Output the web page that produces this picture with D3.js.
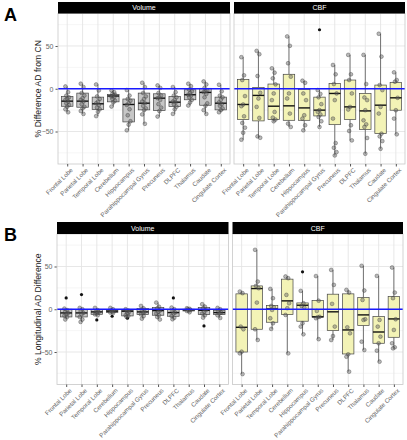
<!DOCTYPE html>
<html><head><meta charset="utf-8">
<script src="https://cdn.jsdelivr.net/npm/d3@7"></script>
<style>body{margin:0;background:#fff}svg{display:block}text{font-family:"Liberation Sans",Arial,sans-serif}</style>
</head><body><svg id="c" width="407" height="440"></svg>
<script>
const categories=["Frontal Lobe","Parietal Lobe","Temporal Lobe","Cerebellum","Hippocampus","Parahippocampal Gyrus","Precuneus","DLPFC","Thalamus","Caudate","Cingulate Cortex"];
const yTicks=[-50,0,50];
const yMinor=[-75,-25,25,75];

// ---- Panel A: Volume ----
const aVolHi=[2.7,5.9,5,-2,-1.5,7,3.9,2,5.9,8.6,4.7];
const aVolQ3=[-9,-5.1,-9.8,-6.7,-12,-5.1,-5.9,-9,-1.2,0.5,-9.8];
const aVolMed=[-14.5,-14.5,-17.6,-8.5,-18.4,-16.9,-11,-15.7,-7,-4.3,-16.9];
const aVolQ1=[-20.5,-21.6,-24.3,-15.3,-38.8,-24.7,-25.5,-20.8,-12.9,-19.3,-24.7];
const aVolLo=[-27.5,-29.4,-32,-20.8,-48.6,-41,-32.5,-29.4,-19.6,-29.4,-27.5];
const aVolPts=[
 [2.7,-4,-8,-10,-12,-13,-15,-17,-19,-21,-24,-27.5],
 [5.9,2,-5,-8,-11,-13,-15,-18,-21,-23,-26,-29.4],
 [5,-2,-9,-12,-15,-17,-19,-22,-24,-27,-32],
 [-2,-4,-6,-7,-8,-9,-10,-12,-14,-16,-20.8],
 [-1.5,-8,-12,-14,-17,-19,-24,-31,-38,-42,-48.6],
 [7,2,-5,-9,-12,-15,-17,-20,-23,-25,-30,-41],
 [3.9,1,-5,-8,-10,-11,-13,-18,-22,-26,-32.5],
 [2,-4,-8,-10,-13,-15,-16,-18,-21,-24,-29.4],
 [5.9,3,-1,-3,-5,-7,-8,-10,-13,-16,-19.6],
 [8.6,5,1,-2,-3,-4,-6,-10,-17,-20,-25,-29.4],
 [4.7,-3,-8,-10,-13,-16,-18,-20,-23,-25,-27.5]];
const aVolOut=[[],[],[],[],[],[],[],[],[],[],[]];

// ---- Panel A: CBF ----
const aCbfHi=[36.9,44.3,23.9,61.2,9.4,-1.5,27.8,39.6,39.6,64.3,19.2];
const aCbfQ3=[11,1.6,5.5,16.9,-0.8,-9.8,6.3,10.2,-5.5,4.3,7.5];
const aCbfMed=[-18.4,-7.8,-20.4,-20,-22.4,-25,-5.5,-21.2,-25.9,-19.2,-10.6];
const aCbfQ1=[-36,-37.6,-36,-36.9,-36.9,-31.8,-42,-36,-47.5,-52.5,-25.1];
const aCbfLo=[-59.6,-57.3,-38.4,-44.7,-48.6,-44.7,-78,-60.4,-76,-70.2,-53.3];
const aCbfPts=[
 [36.9,15.7,10.2,-8.6,-18.4,-20.4,-32.2,-40,-45.5,-51.4,-59.6],
 [44.3,40.4,14.9,-4.7,-11.4,-21.2,-34.1,-55.7,-57.3],
 [23.9,18.8,12.2,5.1,-5.5,-13.3,-27.1,-33.7,-36,-38],
 [61.2,50.2,29.8,14.1,-5.5,-11.4,-29,-40.8,-44.7],
 [9.4,7,-5.5,-13.3,-31,-34.9,-42.7,-48.6],
 [-1.5,-6,-10,-18,-25,-27,-30,-33,-38,-44.7],
 [27.8,16.9,5.5,-5.5,-13.3,-34.9,-63.5,-69,-74.1,-78],
 [39.6,16.9,10.2,-5.5,-21.2,-24.3,-42.7,-49.4,-60.4],
 [39.6,5.5,-10.2,-13.3,-25.1,-36.9,-41.6,-44.7,-57.6,-76],
 [64.3,37.6,4.3,-1.6,-21.2,-29,-52.5,-55.7,-61.2,-70.2],
 [19.2,10.2,8.2,-10.6,-25.1,-34.9,-53.3]];
const aCbfOut=[[],[],[],[],[],[69],[],[],[],[],[]];

// ---- Panel B: Volume ----
const bVolHi=[0.8,1.6,1.6,1.6,0,3.9,7.8,2,1.2,5.9,1.6];
const bVolQ3=[0,-0.4,-0.4,-1.2,-1.2,0.8,2,-0.4,0,2,-1.2];
const bVolMed=[-4.3,-4.3,-3.1,-2.3,-2.3,-3.1,-1.6,-3.9,-0.8,-1.2,-3.9];
const bVolQ1=[-9,-9,-5.9,-3.9,-7.8,-6.3,-7,-8.2,-2,-6.3,-6.3];
const bVolLo=[-12,-14.8,-7,-4.5,-9,-11,-12,-11.7,-3.5,-9.8,-10.2];
const bVolPts=[
 [0.8,-1,-3,-4.3,-6,-7.5,-9,-12],
 [1.6,0,-2,-4.3,-6,-9,-12,-14.8],
 [1.6,-1,-3,-3.5,-5,-6,-7],
 [1.6,0,-1.5,-2.3,-3,-3.9,-4.5],
 [0,-1.5,-2.3,-3,-5,-7,-7.8,-9],
 [3.9,1,-1,-3.1,-4,-6,-8,-11],
 [7.8,3,1,-1.6,-3,-5,-7,-9,-12],
 [2,0,-2,-3.9,-5,-8,-10,-11.7],
 [1.2,0.5,0,-0.8,-1.5,-2,-3.5],
 [5.9,3,1,-1.2,-3,-5,-7,-9.8],
 [1.6,0,-2,-3.9,-5,-7,-10.2]];
const bVolOut=[[13.3],[17.2],[-12.5],[-8.2],[-10.4],[],[],[13.3],[],[-19.5],[]];

// ---- Panel B: CBF ----
const bCbfHi=[20.7,69.5,23.8,38.3,21.5,38.8,46,22.7,50.8,39,48.8];
const bCbfQ3=[18,27.3,4.3,35.2,7.4,10.3,17.6,18,13.7,-8.6,14.8];
const bCbfMed=[-21.1,24.2,0.4,9.8,4.7,-8.8,-3,-24.2,-6.6,-26.6,-11.3];
const bCbfQ1=[-50,-23.4,-15.2,-6.3,-14,-9.2,-25,-52.3,-19,-39.8,-32.8];
const bCbfLo=[-75.8,-35.9,-23,-51.6,-29.3,-35,-36,-73,-47.7,-61.3,-45.7];
const bCbfPts=[
 [20.7,18.8,-20.3,-23.4,-49.6,-51.6,-75.8],
 [69.5,32.4,27.3,24.6,7.8,-23.4,-35.9],
 [23.8,12.9,3.9,2.3,-0.8,-10.5,-16.4,-23],
 [38.3,36.3,16.8,7,1.2,-6.6,-51.6],
 [21.5,7,3.9,2,-16.4,-20.3,-29.3],
 [38.8,10,-2,-8.8,-9.2,-10.5,-35],
 [46,28.5,6.3,-20.3,-31.3,-36],
 [22.7,19.5,-21.1,-28.1,-52.7,-55.5,-73],
 [50.8,21.9,10.9,-11.7,-12.5,-37.9,-47.7],
 [39,-12.5,-20.3,-32,-39.8,-48.4,-61.3],
 [48.8,19.5,12.9,-11.7,-24.2,-39.8,-44.5,-45.7]];
const bCbfOut=[[],[],[],[],[43.8],[],[],[],[],[],[]];

function facet(hi,q3,med,q1,lo,pts,out){
  return categories.map((c,i)=>({cat:c,hi:hi[i],q3:q3[i],med:med[i],q1:q1[i],lo:lo[i],pts:pts[i],out:out[i]}));
}
const rows=[
 {letter:"A",title:"% Difference AD from CN",stripTop:2,top:13.5,bottom:164,xs:[[58,230],[234,405]],
  facets:[{name:"Volume",fill:"#c6c6c6",data:facet(aVolHi,aVolQ3,aVolMed,aVolQ1,aVolLo,aVolPts,aVolOut)},
          {name:"CBF",fill:"#f3f3b6",data:facet(aCbfHi,aCbfQ3,aCbfMed,aCbfQ1,aCbfLo,aCbfPts,aCbfOut)}]},
 {letter:"B",title:"% Longitudinal AD Difference",stripTop:222,top:234,bottom:384.5,xs:[[57,228.5],[232.5,403]],
  facets:[{name:"Volume",fill:"#c6c6c6",data:facet(bVolHi,bVolQ3,bVolMed,bVolQ1,bVolLo,bVolPts,bVolOut)},
          {name:"CBF",fill:"#f3f3b6",data:facet(bCbfHi,bCbfQ3,bCbfMed,bCbfQ1,bCbfLo,bCbfPts,bCbfOut)}]}
];

const svg=d3.select("#c");
rows.forEach(row=>{
  const y=d3.scaleLinear().domain([-88,88]).range([row.bottom,row.top]);
  svg.append("text").attr("x",4).attr("y",row.stripTop+19).attr("font-size",18).attr("font-weight","bold").attr("fill","#000").text(row.letter);
  const cy=(row.top+row.bottom)/2;
  svg.append("text").attr("transform",`translate(41,${cy}) rotate(-90)`).attr("text-anchor","middle").attr("font-size",8.6).attr("fill","#222").text(row.title);
  const yAxis=d3.axisLeft(y).tickValues(yTicks).tickSize(2.5).tickPadding(2).tickFormat(d3.format("d"));
  const ga=svg.append("g").attr("transform",`translate(${row.xs[0][0]},0)`).call(yAxis);
  ga.select(".domain").remove();
  ga.selectAll("line").attr("stroke","#555");
  ga.selectAll("text").attr("font-size",7).attr("fill","#666").attr("font-family","Liberation Sans, Arial, sans-serif");

  row.facets.forEach((f,fi)=>{
    const [x0,x1]=row.xs[fi];
    const n=categories.length;
    const step=(x1-x0)/(n-1+1.2);
    const x=d3.scalePoint().domain(categories).range([x0+0.6*step,x1-0.6*step]);
    const g=svg.append("g");
    g.append("rect").attr("x",x0).attr("y",row.top).attr("width",x1-x0).attr("height",row.bottom-row.top).attr("fill","#fff");
    g.selectAll(".ym").data(yMinor).join("line").attr("x1",x0).attr("x2",x1).attr("y1",d=>y(d)).attr("y2",d=>y(d)).attr("stroke","#f0f0f0").attr("stroke-width",0.6);
    g.selectAll(".yM").data(yTicks).join("line").attr("x1",x0).attr("x2",x1).attr("y1",d=>y(d)).attr("y2",d=>y(d)).attr("stroke","#e4e4e4").attr("stroke-width",0.9);
    g.selectAll(".xM").data(categories).join("line").attr("x1",d=>x(d)).attr("x2",d=>x(d)).attr("y1",row.top).attr("y2",row.bottom).attr("stroke","#e4e4e4").attr("stroke-width",0.9);
    svg.append("rect").attr("x",x0).attr("y",row.stripTop).attr("width",x1-x0).attr("height",row.top-row.stripTop).attr("fill","#000");
    svg.append("text").attr("x",(x0+x1)/2).attr("y",(row.stripTop+row.top)/2+2.5).attr("text-anchor","middle").attr("font-size",7).attr("fill","#fff").text(f.name);
    const xa=svg.append("g").attr("transform",`translate(0,${row.bottom})`).call(d3.axisBottom(x).tickSize(2.5).tickPadding(1));
    xa.select(".domain").remove();
    xa.selectAll("line").attr("stroke","#555");
    xa.selectAll("text").attr("font-size",6.2).attr("fill","#666").attr("font-family","Liberation Sans, Arial, sans-serif")
      .attr("text-anchor","end").attr("dy",0).attr("transform","translate(3,4) rotate(-45)");
    const bw=step*0.75;
    const cg=g.selectAll(".box").data(f.data).join("g");
    cg.append("line").attr("x1",d=>x(d.cat)).attr("x2",d=>x(d.cat)).attr("y1",d=>y(d.hi)).attr("y2",d=>y(d.q3)).attr("stroke","#555").attr("stroke-width",0.8);
    cg.append("line").attr("x1",d=>x(d.cat)).attr("x2",d=>x(d.cat)).attr("y1",d=>y(d.q1)).attr("y2",d=>y(d.lo)).attr("stroke","#555").attr("stroke-width",0.8);
    cg.append("rect").attr("x",d=>x(d.cat)-bw/2).attr("width",bw).attr("y",d=>y(d.q3)).attr("height",d=>y(d.q1)-y(d.q3))
      .attr("fill",f.fill).attr("stroke","#444").attr("stroke-width",0.7);
    cg.append("line").attr("x1",d=>x(d.cat)-bw/2).attr("x2",d=>x(d.cat)+bw/2).attr("y1",d=>y(d.med)).attr("y2",d=>y(d.med)).attr("stroke","#111").attr("stroke-width",1.4);
    cg.selectAll(".o").data(d=>d.out.map(v=>({cat:d.cat,v}))).join("circle").attr("cx",d=>x(d.cat)).attr("cy",d=>y(d.v)).attr("r",1.6).attr("fill","#111");
    cg.selectAll(".p").data(d=>d.pts.map((v,i)=>({cat:d.cat,v,i}))).join("circle")
      .attr("cx",d=>x(d.cat)+(((d.i*3)%5)-2)*0.9).attr("cy",d=>y(d.v)).attr("r",1.9)
      .attr("fill","rgba(100,100,100,0.45)").attr("stroke","rgba(50,50,50,0.6)").attr("stroke-width",0.6);
    g.append("line").attr("x1",x0).attr("x2",x1).attr("y1",y(0)).attr("y2",y(0)).attr("stroke","#1a1aff").attr("stroke-width",1.4);
    g.append("rect").attr("x",x0).attr("y",row.top).attr("width",x1-x0).attr("height",row.bottom-row.top).attr("fill","none").attr("stroke","#c8c8c8").attr("stroke-width",0.8);
  });
});
</script></body></html>
